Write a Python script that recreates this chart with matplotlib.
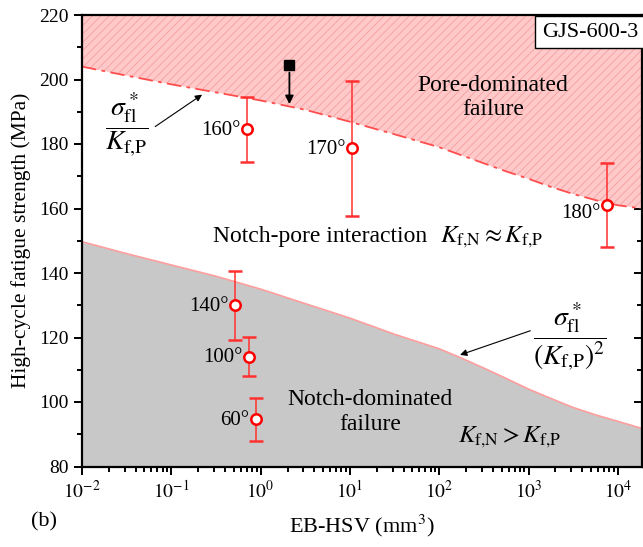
import numpy as np
import matplotlib
matplotlib.use("Agg")
import matplotlib.pyplot as plt
from matplotlib.ticker import LogLocator, MultipleLocator, FixedLocator, NullFormatter

plt.rcParams['font.family'] = ['Liberation Serif', 'DejaVu Serif']
plt.rcParams['mathtext.fontset'] = 'stix'
plt.rcParams['hatch.linewidth'] = 0.6

# ---- data ----
# boundary curves (EB-HSV in mm^3, strength in MPa)
curve_x = [1e-2, 10**-1.5, 1e-1, 10**-0.5, 1e0, 10**0.5, 1e1, 10**1.5, 1e2, 10**2.25,
           10**2.5, 10**2.75, 1e3, 10**3.25, 10**3.5, 10**3.75, 1e4, 10**4.27]
pore_curve = [204, 201.2, 198.5, 196.0, 193.5, 190.6, 186.9, 183.0, 179.0, 176.5,
              174.0, 171.5, 169.2, 166.7, 164.5, 162.6, 161.0, 160.0]
notch_curve = [149.7, 146.0, 142.5, 139.0, 135.0, 130.5, 126.0, 121.0, 116.5, 113.6,
               110.5, 107.3, 104.0, 101.1, 98.3, 96.0, 94.0, 91.8]

labels = ['160°', '170°', '180°', '140°', '100°', '60°']
hsv = [0.705, 10.6, 7600, 0.52, 0.75, 0.89]
strength = [184.7, 178.8, 161.1, 130.1, 114.1, 94.6]
err_high = [194.6, 199.6, 174.0, 140.7, 120.3, 101.1]
err_low = [174.5, 157.8, 148.2, 119.1, 108.0, 88.0]

ref_x = [2.1]
ref_y = [204.5]
ref_arrow_to = [191.5]

xlim = (1e-2, 10**4.27)
ylim = (80, 220)
xticks = [1e-2, 1e-1, 1e0, 1e1, 1e2, 1e3, 1e4]
xticklabels = ['$10^{-2}$', '$10^{-1}$', '$10^{0}$', '$10^{1}$', '$10^{2}$', '$10^{3}$', '$10^{4}$']
yticks = [80, 100, 120, 140, 160, 180, 200, 220]

KN = r'K_{\rm f{,}N}'
KP = r'K_{\rm f{,}P}'

# ---- figure ----
fig = plt.figure(figsize=(6.43, 5.47), dpi=100)
ax = fig.add_axes([82/643, 1-466.5/547, (642-82)/643, (466.5-15)/547])

ax.set_xscale('log')
ax.set_xlim(*xlim)
ax.set_ylim(*ylim)

# regions
ax.fill_between(curve_x, pore_curve, ylim[1], facecolor='#ffc9c9', edgecolor='#f2a0a0',
                hatch='////', linewidth=0, zorder=1)
ax.plot(curve_x, pore_curve, color='#ff4d4d', lw=1.3, dashes=[8, 3, 2, 3], zorder=2)
ax.fill_between(curve_x, ylim[0], notch_curve, facecolor='#c8c8c8', linewidth=0, zorder=1)
ax.plot(curve_x, notch_curve, color='#ff9e9e', lw=1.2, zorder=2)

# data points
for lab, x, y, hi, lo in zip(labels, hsv, strength, err_high, err_low):
    ax.errorbar([x], [y], yerr=[[y - lo], [hi - y]], fmt='o', ms=7.5, mfc='white',
                mec='#ff0000', mew=1.8, ecolor='#ff3030', elinewidth=1.1, capsize=5,
                capthick=1.1, zorder=5)
    dy = -6 if lab == '180°' else -1
    ax.annotate(lab, (x, y), xytext=(-5, dy), textcoords='offset points',
                ha='right', va='center', fontsize=15, zorder=6)

# reference point with arrow
ax.plot(ref_x, ref_y, 's', color='black', ms=6.5, zorder=6)
ax.annotate('', xy=(ref_x[0], ref_arrow_to[0]), xytext=(ref_x[0], ref_y[0] - 1.5),
            arrowprops=dict(arrowstyle='-|>', color='black', lw=1.3, mutation_scale=12),
            zorder=6)

# text annotations
ax.text(398, 194.3, 'Pore-dominated\nfailure', ha='center', va='center', fontsize=17,
        linespacing=1.2, zorder=4)
ax.text(0.293, 151.3, 'Notch-pore interaction', ha='left', va='center', fontsize=17, zorder=4)
ax.text(102, 151.0, '$' + KN + r' \approx ' + KP + '$', ha='left', va='center',
        fontsize=18, zorder=4)
ax.text(16.8, 96.9, 'Notch-dominated\nfailure', ha='center', va='center', fontsize=17,
        linespacing=1.2, zorder=4)
ax.text(617, 89.0, '$' + KN + ' > ' + KP + '$', ha='center', va='center',
        fontsize=18, zorder=4)

# formula labels with arrows
ax.text(0.032, 186.2, r'$\dfrac{\sigma^*_{\rm fl}}{' + KP + '}$', ha='center', va='center',
        fontsize=20, zorder=6)
ax.annotate('', xy=(0.221, 195.3), xytext=(0.066, 185.4),
            arrowprops=dict(arrowstyle='-|>', color='black', lw=0.8, mutation_scale=10,
                            shrinkA=0, shrinkB=0), zorder=6)
ax.text(2917, 120.3, r'$\dfrac{\sigma^*_{\rm fl}}{\left(' + KP + r'\right)^2}$', ha='center',
        va='center', fontsize=20, zorder=6)
ax.annotate('', xy=(171, 114.6), xytext=(1047, 122.1),
            arrowprops=dict(arrowstyle='-|>', color='black', lw=0.8, mutation_scale=10,
                            shrinkA=0, shrinkB=0), zorder=6)

# sample box
ax.text(0.993, 0.983, 'GJS-600-3', transform=ax.transAxes, ha='right', va='top',
        fontsize=16, zorder=7,
        bbox=dict(boxstyle='square,pad=0.3', facecolor='white', edgecolor='black', lw=1.0))

# axes styling
for s in ax.spines.values():
    s.set_linewidth(1.6)
ax.xaxis.set_major_locator(FixedLocator(xticks))
ax.set_xticklabels(xticklabels)
ax.xaxis.set_minor_locator(LogLocator(base=10, subs=np.arange(2, 10), numticks=20))
ax.xaxis.set_minor_formatter(NullFormatter())
ax.yaxis.set_major_locator(FixedLocator(yticks))
ax.yaxis.set_minor_locator(MultipleLocator(10))
ax.tick_params(which='both', direction='out', top=False, right=False, labelsize=14, width=1.4)
ax.tick_params(which='major', length=6)
ax.tick_params(which='minor', length=3.5)

# mirrored inward ticks on top/right
axt = ax.secondary_xaxis('top')
axt.xaxis.set_major_locator(FixedLocator(xticks))
axt.xaxis.set_minor_locator(LogLocator(base=10, subs=np.arange(2, 10), numticks=20))
axt.tick_params(which='both', direction='in', labeltop=False, width=1.4)
axt.tick_params(which='major', length=6)
axt.tick_params(which='minor', length=3.5)
axt.set_xticklabels([])
axt.xaxis.set_minor_formatter(NullFormatter())
axr = ax.secondary_yaxis('right')
axr.yaxis.set_major_locator(FixedLocator(yticks))
axr.yaxis.set_minor_locator(MultipleLocator(10))
axr.tick_params(which='both', direction='in', labelright=False, width=1.4)
axr.tick_params(which='major', length=6)
axr.tick_params(which='minor', length=3.5)
axr.set_yticklabels([])

ax.set_xlabel('EB-HSV (mm$^3$)', fontsize=16, labelpad=8)
ax.set_ylabel('High-cycle fatigue strength (MPa)', fontsize=15.5, labelpad=6)
fig.text(44/643, 1-522/547, '(b)', ha='center', va='center', fontsize=16)

fig.savefig('out.png', dpi=100)
